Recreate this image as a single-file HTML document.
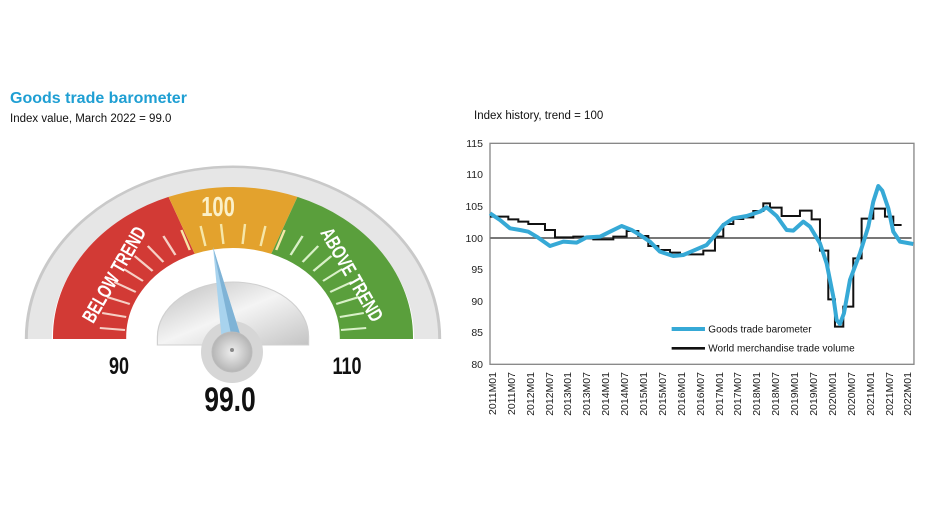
<!DOCTYPE html>
<html><head><meta charset="utf-8"><style>
body{margin:0;background:#fff;}
svg{display:block;font-family:"Liberation Sans",sans-serif;}
</style></head><body>
<svg width="930" height="523" viewBox="0 0 930 523" xmlns="http://www.w3.org/2000/svg">
<defs>
<linearGradient id="hub" x1="0" y1="0" x2="1" y2="1"><stop offset="0" stop-color="#bdbdbd"/><stop offset="0.5" stop-color="#f4f4f4"/><stop offset="1" stop-color="#c4c4c4"/></linearGradient>
<radialGradient id="knob"><stop offset="0" stop-color="#eee"/><stop offset="1" stop-color="#b5b5b5"/></radialGradient>
</defs>
<text x="10" y="103" font-size="16" font-weight="bold" fill="#1f9fd3">Goods trade barometer</text>
<text x="10" y="122" font-size="11.5" fill="#111">Index value, March 2022 = 99.0</text>
<text x="474" y="119" font-size="11.5" fill="#111">Index history, trend = 100</text>

<!-- gauge -->
<g transform="translate(233,337) scale(1.2,1)">
<path d="M-172 2 A172 172 0 0 1 172 2" fill="none" stroke="#c9c9c9" stroke-width="3"/>
<path d="M-161 2 A161 161 0 0 1 161 2" fill="none" stroke="#e6e6e6" stroke-width="20"/>
<path d="M-119.5 2 L-119.5 0 A119.5 119.5 0 0 1 -42.8 -111.6" fill="none" stroke="#d23a35" stroke-width="61"/>
<path d="M-42.8 -111.6 A119.5 119.5 0 0 1 42.8 -111.6" fill="none" stroke="#e3a22d" stroke-width="61"/>
<path d="M42.8 -111.6 A119.5 119.5 0 0 1 119.5 0 L119.5 2" fill="none" stroke="#5a9f3c" stroke-width="61"/>
<g stroke-width="2">
<line x1="-90" y1="-7" x2="-111" y2="-9" stroke="#f6d0c6"/>
<line x1="-89" y1="-20" x2="-109" y2="-24" stroke="#f6d0c6"/>
<line x1="-86" y1="-33" x2="-105" y2="-40" stroke="#f6d0c6"/>
<line x1="-81" y1="-45" x2="-99" y2="-55" stroke="#f6d0c6"/>
<line x1="-75" y1="-56" x2="-91" y2="-68" stroke="#f6d0c6"/>
<line x1="-67" y1="-66" x2="-82" y2="-81" stroke="#f6d0c6"/>
<line x1="-58" y1="-75" x2="-71" y2="-91" stroke="#f6d0c6"/>
<line x1="-48" y1="-82" x2="-58" y2="-101" stroke="#f6d0c6"/>
<line x1="-36" y1="-87" x2="-43" y2="-107" stroke="#f6e6a8"/>
<line x1="-23" y1="-91" x2="-27" y2="-111" stroke="#f6e6a8"/>
<line x1="-8" y1="-93" x2="-10" y2="-113" stroke="#f6e6a8"/>
<line x1="8" y1="-93" x2="10" y2="-113" stroke="#f6e6a8"/>
<line x1="23" y1="-91" x2="27" y2="-111" stroke="#f6e6a8"/>
<line x1="36" y1="-87" x2="43" y2="-107" stroke="#f6e6a8"/>
<line x1="48" y1="-82" x2="58" y2="-101" stroke="#d9f0c8"/>
<line x1="58" y1="-75" x2="71" y2="-91" stroke="#d9f0c8"/>
<line x1="67" y1="-66" x2="82" y2="-81" stroke="#d9f0c8"/>
<line x1="75" y1="-56" x2="91" y2="-68" stroke="#d9f0c8"/>
<line x1="81" y1="-45" x2="99" y2="-55" stroke="#d9f0c8"/>
<line x1="86" y1="-33" x2="105" y2="-40" stroke="#d9f0c8"/>
<line x1="89" y1="-20" x2="109" y2="-24" stroke="#d9f0c8"/>
<line x1="90" y1="-7" x2="111" y2="-9" stroke="#d9f0c8"/>
</g>
<path d="M-63 8 L-63 0 A63 55 0 0 1 63 0 L63 8 Z" fill="url(#hub)" stroke="#d0d0d0"/>
</g>
<circle cx="232" cy="352" r="31" fill="#d6d6d6"/>
<polygon points="213,247 222,342 241,337" fill="#a8d3ee"/>
<polygon points="213,247 232,339 241,337" fill="#7fb3d6"/>
<circle cx="232" cy="352" r="20" fill="url(#knob)" stroke="#bbb"/>
<circle cx="232" cy="350" r="2" fill="#888"/>
<g font-weight="bold" text-anchor="middle">
<text transform="translate(218,216) scale(0.72,1)" font-size="28" fill="#fbf0c8">100</text>
<text transform="translate(120,278) rotate(-60) scale(0.72,1)" font-size="20" fill="#fff">BELOW TREND</text>
<text transform="translate(346,278) rotate(60) scale(0.72,1)" font-size="20" fill="#fff">ABOVE TREND</text>
<text transform="translate(119,374) scale(0.75,1)" font-size="24" fill="#111">90</text>
<text transform="translate(347,374) scale(0.75,1)" font-size="24" fill="#111">110</text>
<text transform="translate(230,411) scale(0.78,1)" font-size="34" fill="#111">99.0</text>
</g>

<!-- chart -->
<g font-size="10.5" fill="#222" text-anchor="end">
<text x="483" y="147">115</text><text x="483" y="178">110</text><text x="483" y="210">105</text>
<text x="483" y="242">100</text><text x="483" y="273">95</text><text x="483" y="305">90</text>
<text x="483" y="336">85</text><text x="483" y="368">80</text>
</g>
<g transform="translate(440,130) scale(0.3333)">
<rect x="150" y="40" width="1272" height="663" fill="none" stroke="#888" stroke-width="4"/>
<line x1="150" y1="324" x2="1415" y2="324" stroke="#777" stroke-width="6"/>
<polyline fill="none" stroke="#111" stroke-width="6" points="150,260 205,260 205,268 235,268 235,275 265,275 265,282 315,282 315,300 345,300 345,322 400,322 400,320 430,320 430,325 460,325 460,328 520,328 520,320 560,320 560,303 595,303 595,318 625,318 625,348 655,348 655,360 690,360 690,368 720,368 720,373 790,373 790,362 825,362 825,320 850,320 850,282 880,282 880,267 910,267 910,262 940,262 940,243 970,243 970,220 990,220 990,233 1025,233 1025,258 1080,258 1080,242 1115,242 1115,268 1140,268 1140,362 1165,362 1165,508 1185,508 1185,590 1210,590 1210,530 1240,530 1240,385 1265,385 1265,266 1300,266 1300,236 1335,236 1335,260 1360,260 1360,285 1385,285"/>
<polyline fill="none" stroke="#36a9d6" stroke-width="12" stroke-linejoin="round" points="150,250 180,270 210,295 240,300 265,305 290,320 330,348 370,335 410,338 440,322 480,320 510,305 545,288 575,300 600,315 630,335 660,365 700,378 730,375 760,362 800,345 830,310 850,285 880,265 920,258 960,245 980,232 1010,258 1040,300 1060,302 1090,275 1110,290 1140,340 1160,400 1180,500 1190,570 1200,582 1212,550 1230,450 1260,370 1285,290 1300,215 1315,168 1327,182 1345,235 1360,305 1380,335 1420,342"/>
<line x1="695" y1="597" x2="795" y2="597" stroke="#36a9d6" stroke-width="12"/>
<line x1="695" y1="655" x2="795" y2="655" stroke="#111" stroke-width="8"/>
<text x="805" y="607" font-size="30" fill="#111">Goods trade barometer</text>
<text x="805" y="665" font-size="30" fill="#111">World merchandise trade volume</text>
</g>
<g font-size="10.5" fill="#222" text-anchor="end">
<text transform="translate(496,372) rotate(-90)">2011M01</text>
<text transform="translate(515,372) rotate(-90)">2011M07</text>
<text transform="translate(534,372) rotate(-90)">2012M01</text>
<text transform="translate(553,372) rotate(-90)">2012M07</text>
<text transform="translate(571,372) rotate(-90)">2013M01</text>
<text transform="translate(590,372) rotate(-90)">2013M07</text>
<text transform="translate(609,372) rotate(-90)">2014M01</text>
<text transform="translate(628,372) rotate(-90)">2014M07</text>
<text transform="translate(647,372) rotate(-90)">2015M01</text>
<text transform="translate(666,372) rotate(-90)">2015M07</text>
<text transform="translate(685,372) rotate(-90)">2016M01</text>
<text transform="translate(704,372) rotate(-90)">2016M07</text>
<text transform="translate(723,372) rotate(-90)">2017M01</text>
<text transform="translate(741,372) rotate(-90)">2017M07</text>
<text transform="translate(760,372) rotate(-90)">2018M01</text>
<text transform="translate(779,372) rotate(-90)">2018M07</text>
<text transform="translate(798,372) rotate(-90)">2019M01</text>
<text transform="translate(817,372) rotate(-90)">2019M07</text>
<text transform="translate(836,372) rotate(-90)">2020M01</text>
<text transform="translate(855,372) rotate(-90)">2020M07</text>
<text transform="translate(874,372) rotate(-90)">2021M01</text>
<text transform="translate(893,372) rotate(-90)">2021M07</text>
<text transform="translate(911,372) rotate(-90)">2022M01</text>
</g>
</svg>
</body></html>
